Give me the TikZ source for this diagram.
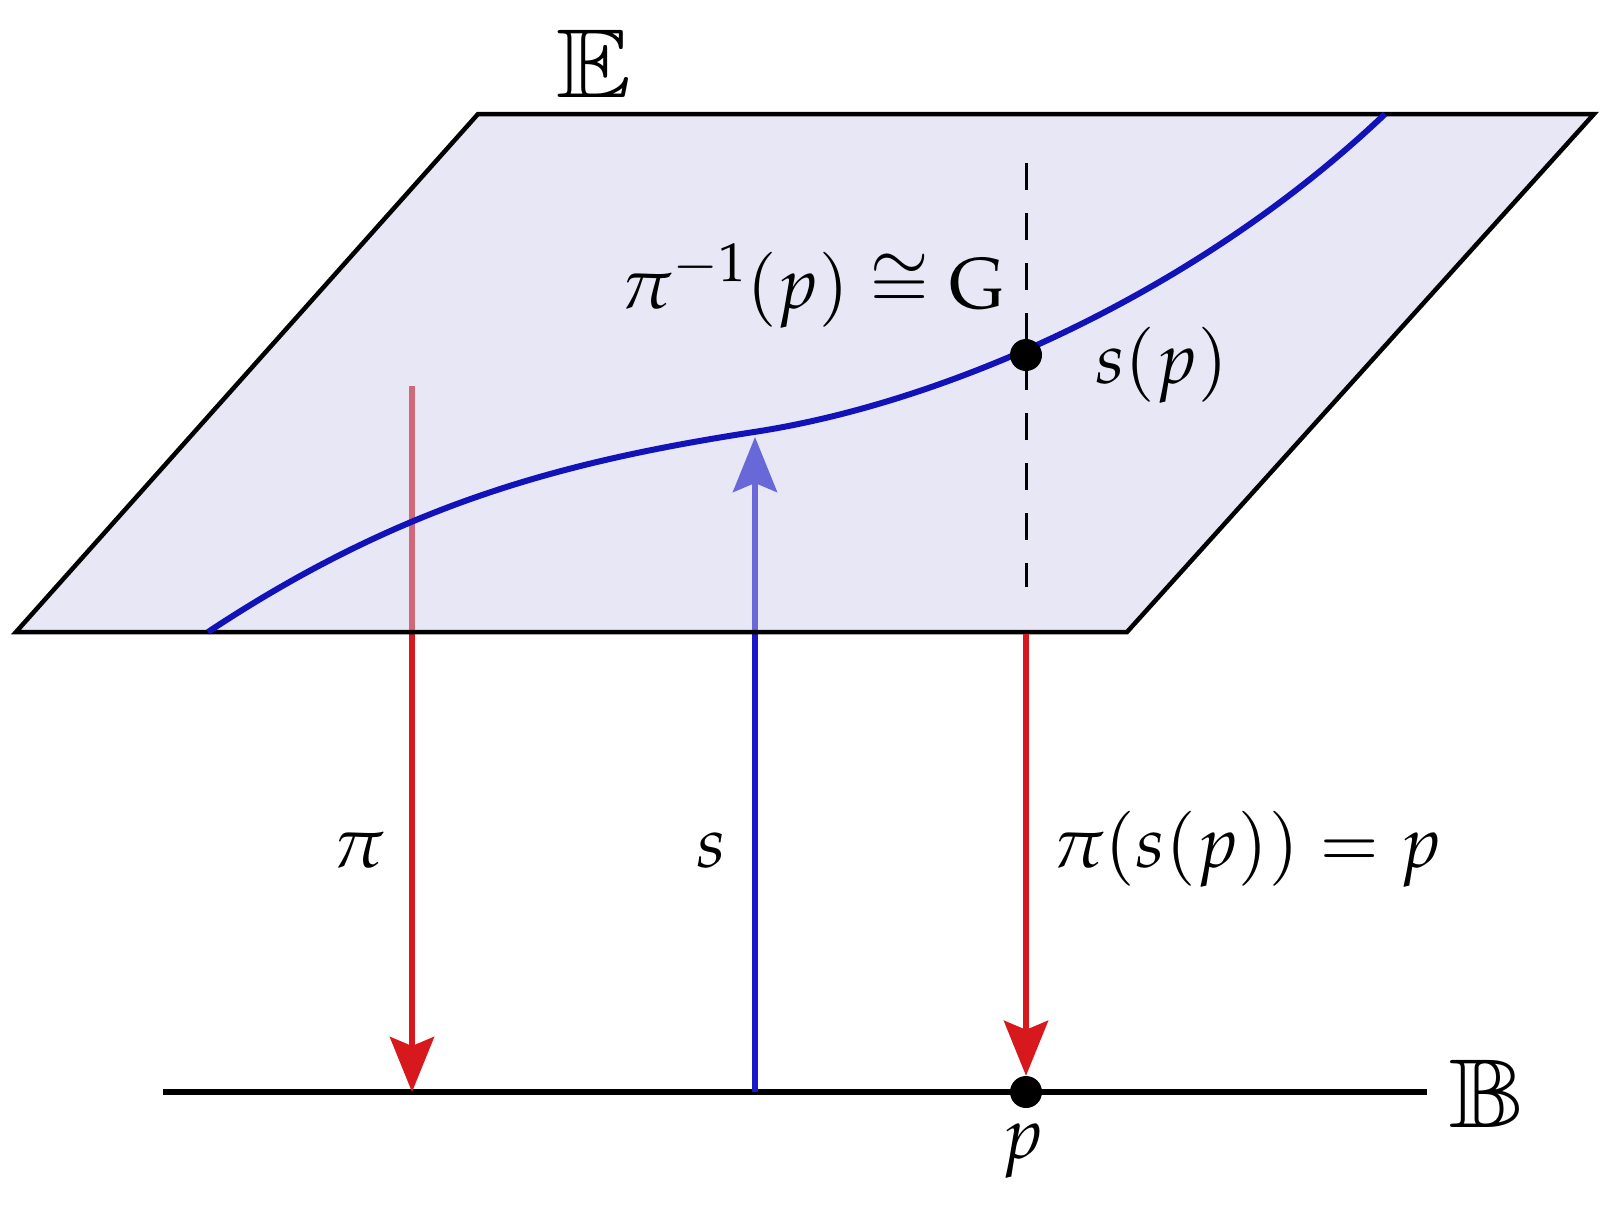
\documentclass[tikz,border=0pt]{standalone}
\usepackage[noBBpl]{mathpazo}
\usepackage{amssymb}
\usepackage{graphicx}
\usetikzlibrary{arrows.meta}
\definecolor{planefill}{RGB}{202,202,236}
\definecolor{arrred}{RGB}{215,25,30}
\definecolor{arrblue}{RGB}{25,25,200}
\definecolor{curveblue}{RGB}{18,18,185}
\begin{document}
\begin{tikzpicture}[x=1pt,y=-1pt,
  lbl/.style={inner sep=0pt, font=\fontsize{72}{86}\selectfont},
  bblbl/.style={inner sep=0pt, font=\fontsize{94}{112}\selectfont},
  redarrow/.style={draw=arrred, line width=6pt, -{Stealth[length=55pt,width=44pt,inset=9pt]}},
  bluearrow/.style={draw=arrblue, line width=6pt, -{Stealth[length=55pt,width=44pt,inset=9pt]}},
  dot/.style={circle, fill=black, minimum size=32pt, inner sep=0pt},
  planestyle/.style={fill=planefill, fill opacity=0.45},
  planeedge/.style={draw=black, line width=4.5pt},
  baseline/.style={draw=black, line width=6pt},
  section/.style={draw=curveblue, line width=6pt},
  fiber/.style={draw=black, line width=3pt, dash pattern=on 27pt off 23pt}
]
\useasboundingbox (0,0) rectangle (1600,1211);
% corners of the plane
\coordinate (TL) at (478,114);
\coordinate (TR) at (1594,114);
\coordinate (BR) at (1127,632);
\coordinate (BL) at (16,632);
% base line
\coordinate (Bl) at (163,1092);
\coordinate (Br) at (1427,1092);
\draw[baseline] (Bl) -- (Br);
% arrows behind plane
\coordinate (piTop) at (412,386);
\coordinate (piBot) at (412,1092);
\coordinate (sBot) at (755,1092);
\coordinate (sTop) at (755,437);
\draw[redarrow] (piTop) -- (piBot);
\draw[bluearrow] (sBot) -- (sTop);
% plane
\fill[planestyle] (TL) -- (TR) -- (BR) -- (BL) -- cycle;
\draw[planeedge] (TL) -- (TR) -- (BR) -- (BL) -- cycle;
% section curve
\coordinate (cStart) at (208,632);
\coordinate (cMid) at (754,432);
\coordinate (cEnd) at (1385,114);
\draw[section] (cStart) .. controls (400,505) and (560,462) .. (cMid)
  .. controls (950,402) and (1200,290) .. (cEnd);
% fiber
\coordinate (fibTop) at (1026,163);
\coordinate (fibBot) at (1026,587);
\draw[fiber] (fibTop) -- (fibBot);
% dots
\node[dot] (spdot) at (1026,355) {};
\node[dot] (pdot) at (1026,1092) {};
\coordinate (pStart) at (1026,634);
\draw[redarrow] (pStart) -- (pdot);
% labels
\node[bblbl] (E) at (594,64) {\scalebox{1.15}[1]{$\mathbb{E}$}};
\node[bblbl] (B) at (1487,1094) {\scalebox{1.15}[1]{$\mathbb{B}$}};
\node[lbl, anchor=base] (pilbl) at (359,867) {$\pi$};
\node[lbl, anchor=base] (slbl) at (711,867) {$s$};
\node[lbl, anchor=base west] (eqlbl) at (1052,867) {$\pi(s(p)) = p$};
\node[lbl, anchor=base] (plbl) at (1023,1158) {$p$};
\node[lbl, anchor=base west] (splbl) at (1095,383) {$s(p)$};
\node[lbl, anchor=base east] (fiblbl) at (1005,308) {$\pi^{-1}(p) \cong \mathrm{G}$};
\end{tikzpicture}
\end{document}
